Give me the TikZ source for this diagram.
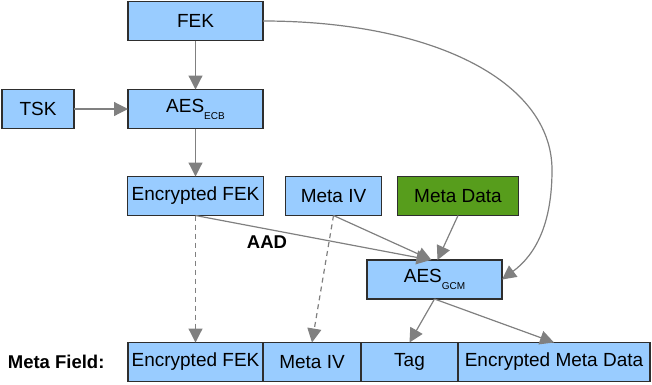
\documentclass[tikz,border=0pt]{standalone}
\usepackage{fontspec}
\setmainfont{Liberation Sans}
\usetikzlibrary{arrows.meta, positioning}

\definecolor{boxblue}{HTML}{99CCFF}
\definecolor{metagreen}{HTML}{579D1C}
\definecolor{flowgray}{HTML}{808080}
\definecolor{edgegray}{HTML}{2E2E2E}

\newcommand{\aessub}[1]{AES\raisebox{-7pt}{\fontsize{10}{10}\selectfont #1}}

\begin{document}
\begin{tikzpicture}[x=1pt, y=-1pt, >={Triangle[length=14pt, width=14pt]},
  block/.style={rectangle, draw=edgegray, line width=1.2pt, fill=boxblue, minimum height=39pt, inner sep=0pt, outer sep=0pt, font=\fontsize{19}{21}\selectfont},
  flow/.style={->, draw=flowgray, line width=1.2pt},
  copyflow/.style={flow, dash pattern=on 5pt off 4pt},
  tag/.style={font=\bfseries\fontsize{18.5}{21}\selectfont}]

\useasboundingbox (0,0) rectangle (652,384);

\node[block, minimum width=135pt] (fek) at (195.5,21) {FEK};
\node[block, minimum width=135pt, below=49pt of fek] (aesecb) {\aessub{ECB}};
\node[block, minimum width=72pt, left=54pt of aesecb] (tsk) {TSK};
\node[block, minimum width=136pt, below=48pt of aesecb] (encfek) {Encrypted FEK};
\node[block, minimum width=96pt, right=22pt of encfek] (metaiv) {Meta IV};
\node[block, minimum width=121pt, right=16pt of metaiv, fill=metagreen] (metadata) {Meta Data};
\node[block, minimum width=135pt] (aesgcm) at (434.5,279.5) {\aessub{GCM}};

\node[block, minimum width=135pt, below=127pt of encfek] (fieldfek) {Encrypted FEK};
\node[block, minimum width=98pt, right=0pt of fieldfek] (fieldiv) {Meta IV};
\node[block, minimum width=97pt, right=0pt of fieldiv] (fieldtag) {Tag};
\node[block, minimum width=192pt, right=0pt of fieldtag] (fielddata) {Encrypted Meta Data};
\node[tag, left=20pt of fieldfek] (fieldname) {Meta Field:};
\node[tag] (aad) at (267,242) {AAD};

\coordinate (bend) at (552,170);

\draw[flow] (fek) -- (aesecb);
\draw[flow] (tsk) -- (aesecb);
\draw[flow] (aesecb) -- (encfek);
\draw[flow] (encfek.south) -- ([xshift=-4pt]aesgcm.north);
\draw[flow] (metaiv.south) -- ([xshift=-3pt]aesgcm.north);
\draw[flow] (metadata.south) -- ([xshift=3pt]aesgcm.north);
\draw[flow] (fek.east) .. controls (430,21) and (552,80) .. (bend) .. controls (552,225) and (535,255) .. (aesgcm.east);
\draw[copyflow] (encfek) -- (fieldfek);
\draw[copyflow] (metaiv.south) -- (fieldiv.north);
\draw[flow] (aesgcm.south) -- (fieldtag.north);
\draw[flow] (aesgcm.south) -- (fielddata.north);

\end{tikzpicture}
\end{document}
